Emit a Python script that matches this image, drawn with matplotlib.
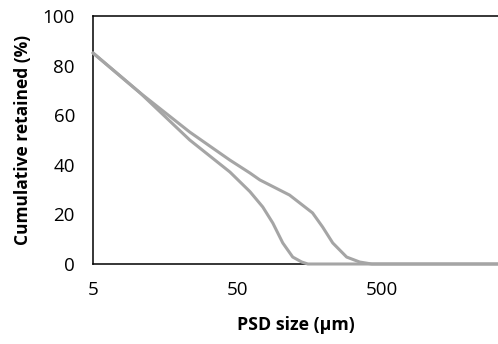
import numpy as np
import matplotlib
matplotlib.use("Agg")
import matplotlib.pyplot as plt
from matplotlib.ticker import FixedLocator, FixedFormatter, NullLocator

plt.rcParams['font.family'] = ['Open Sans', 'DejaVu Sans']

# PSD sizes (um) and cumulative retained (%)
size_a = [5, 10.6, 23.4, 44.4, 61.1, 75.0, 88.1, 103.2, 121, 139.7, 154, 5000]
retained_a = [85.1, 69, 50, 37.1, 29.2, 23, 16.5, 8.5, 2.8, 0.8, 0, 0]

size_b = [5, 10.6, 23.4, 44.4, 61.1, 71.6, 115, 166, 195, 229, 286, 352, 427, 5000]
retained_b = [85.1, 69, 53.2, 41.9, 36.7, 33.9, 27.8, 20.6, 14.9, 8.5, 2.8, 0.8, 0, 0]

xticks = [5, 50, 500]
xticklabels = ['5', '50', '500']
yticks = [0, 20, 40, 60, 80, 100]

fig = plt.figure(figsize=(4.98, 3.44), dpi=100)
ax = fig.add_axes([93 / 498, 80 / 344, 433 / 498, 248 / 344])

grey = '#a5a5a5'
ax.plot(size_a, retained_a, color=grey, lw=2.2, zorder=3, clip_on=False,
        solid_joinstyle='round', solid_capstyle='round')
ax.plot(size_b, retained_b, color=grey, lw=2.2, zorder=3, clip_on=False,
        solid_joinstyle='round', solid_capstyle='round')

ax.set_xscale('log')
ax.set_xlim(5, 5000)
ax.set_ylim(0, 100)
ax.xaxis.set_major_locator(FixedLocator(xticks))
ax.xaxis.set_major_formatter(FixedFormatter(xticklabels))
ax.xaxis.set_minor_locator(NullLocator())
ax.set_yticks(yticks)

ax.tick_params(axis='both', length=0, labelsize=13.5, colors='black')
ax.tick_params(axis='y', pad=13)
ax.tick_params(axis='x', pad=12)

for s in ax.spines.values():
    s.set_linewidth(1.1)
    s.set_color('black')

fig.text(296 / 498, 1 - 325 / 344, 'PSD size (µm)', ha='center', va='center',
         fontsize=12.8, fontweight='bold')
fig.text(23 / 498, 1 - 140 / 344, 'Cumulative retained (%)', ha='center',
         va='center', rotation=90, fontsize=12.5, fontweight='bold')

fig.savefig('out.png', dpi=100)
